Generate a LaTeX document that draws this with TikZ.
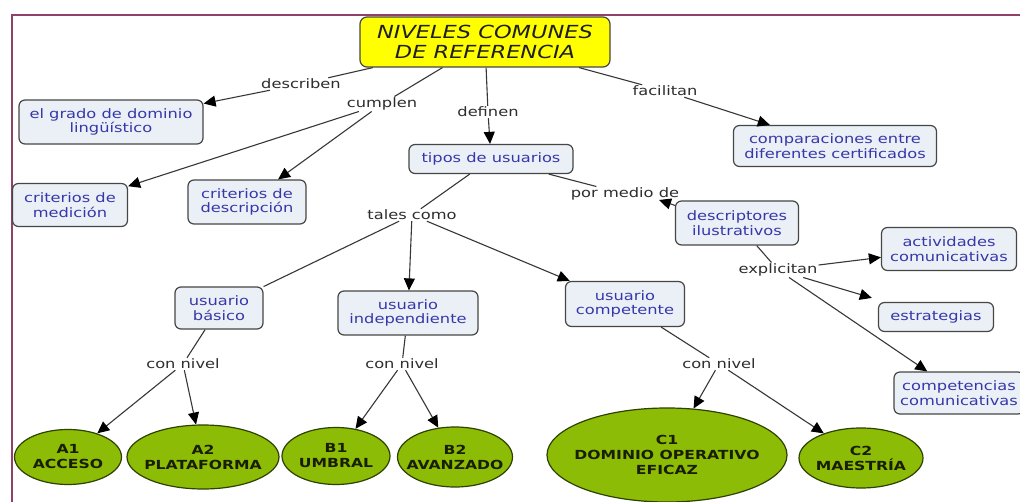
\documentclass[tikz,border=0pt]{standalone}
\usepackage{fontspec}
\setmainfont{DejaVu Sans}[FakeStretch=1.25]
\usetikzlibrary{arrows.meta,shapes.geometric}
\definecolor{framecol}{RGB}{145,65,105}
\definecolor{boxfill}{RGB}{234,240,246}
\definecolor{boxdraw}{RGB}{70,70,70}
\definecolor{boxtext}{RGB}{55,55,170}
\definecolor{linkcol}{RGB}{45,45,45}
\definecolor{linecol}{RGB}{55,55,55}
\definecolor{lvlfill}{RGB}{140,188,5}
\definecolor{lvldraw}{RGB}{45,65,0}
\definecolor{lvltext}{RGB}{25,30,0}
\definecolor{ttlfill}{RGB}{255,255,0}
\definecolor{ttltext}{RGB}{30,30,30}
\begin{document}
\begin{tikzpicture}[x=1pt,y=-1pt,
  cbox/.style={draw=boxdraw, fill=boxfill, rounded corners=6pt, line width=1.2pt,
    text=boxtext, align=center, inner sep=1pt, font=\fontsize{13}{14.5}\selectfont},
  lvlnode/.style={ellipse, draw=lvldraw, fill=lvlfill, line width=1.2pt, text=lvltext,
    align=center, inner ysep=0pt, inner xsep=-20pt, font=\bfseries\fontsize{12.5}{15}\selectfont},
  ttl/.style={draw=boxdraw, fill=ttlfill, rounded corners=7pt, line width=1.2pt,
    text=ttltext, align=center, inner sep=1pt, font=\itshape\fontsize{18}{20.5}\selectfont},
  lnk/.style={text=linkcol, inner sep=1pt, font=\fontsize{13}{14.5}\selectfont},
  conn/.style={draw=linecol, line width=1.1pt},
  arr/.style={conn, -{Triangle[length=12pt,width=11pt,fill=black,color=black]}},
]
\useasboundingbox (0,0) rectangle (1020,502);
\clip (0,0) rectangle (1020,502);
\fill[white] (0,0) rectangle (1020,502);
\draw[framecol, line width=1.5pt] (1020,15) -- (12,15) -- (12,502);

% concepts
\node[ttl, minimum width=250pt, minimum height=50pt] (title) at (485,42) {NIVELES COMUNES\\DE REFERENCIA};
\node[cbox, minimum width=184pt, minimum height=44pt] (grado) at (111,122) {el grado de dominio\\lingüístico};
\node[cbox, minimum width=115pt, minimum height=43pt] (medic) at (70,205) {criterios de\\medición};
\node[cbox, minimum width=118pt, minimum height=44pt] (descr) at (247,202) {criterios de\\descripción};
\node[cbox, minimum width=164pt, minimum height=29pt] (tipos) at (491,159) {tipos de usuarios};
\node[cbox, minimum width=203pt, minimum height=41pt] (compar) at (835,146) {comparaciones entre\\diferentes certificados};
\node[cbox, minimum width=123pt, minimum height=44pt] (ilus) at (737,223) {descriptores\\ilustrativos};
\node[cbox, minimum width=135pt, minimum height=43pt] (activ) at (949,249) {actividades\\comunicativas};
\node[cbox, minimum width=115pt, minimum height=29pt] (estr) at (936,317) {estrategias};
\node[cbox, minimum width=130pt, minimum height=42pt] (compet) at (959,393) {competencias\\comunicativas};
\node[cbox, minimum width=88pt, minimum height=42pt] (basico) at (219,308) {usuario\\básico};
\node[cbox, minimum width=140pt, minimum height=44pt] (indep) at (408,313) {usuario\\independiente};
\node[cbox, minimum width=119pt, minimum height=45pt] (compt) at (625,304) {usuario\\competente};

% levels
\node[lvlnode, minimum width=107pt, minimum height=55pt] (a1) at (68,457) {A1\\ACCESO};
\node[lvlnode, minimum width=152pt, minimum height=64pt] (a2) at (203,457) {A2\\PLATAFORMA};
\node[lvlnode, minimum width=108pt, minimum height=57pt] (b1) at (336,456) {B1\\UMBRAL};
\node[lvlnode, minimum width=115pt, minimum height=60pt] (b2) at (455,457) {B2\\AVANZADO};
\node[lvlnode, minimum width=240pt, minimum height=94pt] (c1) at (667,455) {C1\\DOMINIO OPERATIVO\\EFICAZ};
\node[lvlnode, minimum width=124pt, minimum height=60pt] (c2) at (861,458) {C2\\MAESTRÍA};

% linking phrases
\node[lnk] (describen) at (301,84) {describen};
\node[lnk] (cumplen) at (382,104) {cumplen};
\node[lnk] (definen) at (488,112) {definen};
\node[lnk] (facilitan) at (665,91) {facilitan};
\node[lnk] (tales) at (412,215) {tales como};
\node[lnk] (pmd) at (625,194) {por medio de};
\node[lnk] (explic) at (778,270) {explicitan};
\node[lnk] (cn1) at (183,364) {con nivel};
\node[lnk] (cn2) at (402,364) {con nivel};
\node[lnk] (cn3) at (719,364) {con nivel};
\coordinate (pmdtip) at (659,200);

% connectors
\draw[conn] (title) -- (describen);
\draw[arr] (describen) -- (grado);
\draw[conn] (title) -- (cumplen);
\draw[arr] (cumplen) -- (medic);
\draw[arr] (cumplen) -- (descr);
\draw[conn] (title) -- (definen);
\draw[arr] (definen) -- (tipos);
\draw[conn] (title) -- (facilitan);
\draw[arr] (facilitan) -- (compar);
\draw[conn] (tipos) -- (tales);
\draw[conn] (tipos) -- (pmd);
\draw[arr] ([yshift=-5pt]ilus.north west) -- (pmdtip);
\draw[conn] (tales) -- (basico);
\draw[arr] (tales) -- (indep);
\draw[arr] (tales) -- (compt);
\draw[conn] (basico) -- (cn1);
\draw[arr] (cn1) -- (a1);
\draw[arr] (cn1) -- (a2);
\draw[conn] (indep) -- (cn2);
\draw[arr] (cn2) -- (b1);
\draw[arr] (cn2) -- (b2);
\draw[conn] (compt) -- (cn3);
\draw[arr] (cn3) -- (c1);
\draw[arr] (cn3) -- (c2);
\draw[conn] (ilus) -- (explic);
\draw[arr] (explic) -- (activ);
\draw[arr, shorten >=14pt] (explic) -- (estr);
\draw[arr] (explic) -- (compet);
\end{tikzpicture}
\end{document}
